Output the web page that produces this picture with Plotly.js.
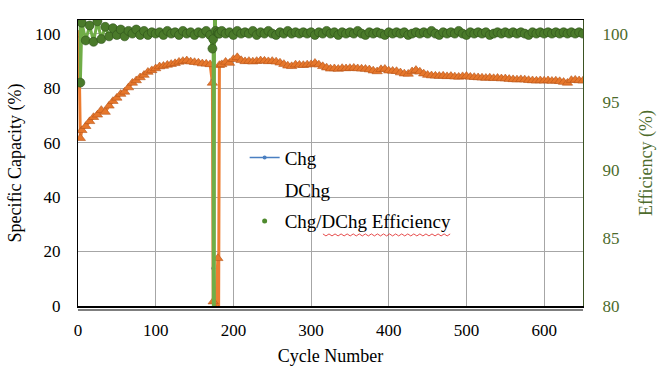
<!DOCTYPE html>
<html>
<head>
<meta charset="utf-8">
<script src="https://cdn.plot.ly/plotly-3.0.1.min.js"></script>
<style>html,body{margin:0;padding:0;background:#fff;}#chart{width:659px;height:373px;}</style>
</head>
<body>
<div id="chart"></div>
<script>
// Cycle numbers (sampled)
const cycles = [1,3,5,10,15,20,25,30,35,40,45,50,55,60,65,70,75,80,85,90,95,100,
  105,110,115,120,125,130,135,140,145,150,155,160,165,170,173,174,175,176,177,180,181,182,
  185,190,195,200,205,210,215,220,225,230,235,240,245,250,255,260,265,270,275,280,285,290,295,300,
  305,310,315,320,325,330,335,340,345,350,355,360,365,370,375,380,385,390,395,400,
  405,410,415,420,425,430,435,440,445,450,455,460,465,470,475,480,485,490,495,500,
  505,510,515,520,525,530,535,540,545,550,555,560,565,570,575,580,585,590,595,600,
  605,610,615,620,625,630,635,640,645,650];

// Specific capacity, charge (%)
const chg = [99.4,64.0,64.8,66.3,68.1,69.6,70.5,72.2,71.5,73.8,75.5,76.7,78.1,78.9,80.5,82.2,83.1,84.2,85.1,86.2,86.8,87.5,
  88.2,88.4,88.8,89.1,89.4,89.9,90.2,90.4,90.0,89.8,89.6,89.3,89.2,89.0,83.1,13.9,-1.0,-1.0,-0.8,3.7,-1.0,88.7,
  89.0,89.9,89.5,90.9,91.6,90.5,90.1,90.2,90.0,90.2,90.4,90.3,90.1,90.2,90.0,89.6,89.1,88.5,88.3,88.9,88.8,88.7,88.9,89.0,
  89.5,88.9,88.3,87.8,87.4,87.5,87.3,87.6,87.5,87.6,87.7,87.5,87.4,87.3,87.1,86.7,86.4,87.2,87.3,86.7,
  86.6,86.5,86.0,85.6,85.5,86.4,86.9,86.3,85.6,85.1,84.9,84.8,84.7,84.8,84.6,84.7,84.5,84.4,84.6,84.7,
  84.4,84.3,84.2,84.1,84.0,84.1,83.9,84.0,83.8,83.8,83.6,83.5,83.4,83.5,83.4,83.2,83.1,83.0,83.1,83.0,
  83.1,82.9,83.0,82.8,82.5,82.2,83.2,83.3,83.1,83.0];

// Specific capacity, discharge (%)
const dchg = [99.6,61.6,64.5,66.0,67.8,69.3,70.2,71.9,71.2,73.5,75.2,76.4,77.8,78.6,80.2,81.9,82.8,83.9,84.8,85.9,86.5,87.2,
  87.9,88.1,88.5,88.8,89.1,89.6,89.9,90.1,89.7,89.5,89.3,89.0,88.9,88.7,81.9,1.6,-1.5,-1.5,-1.2,17.5,-1.5,88.4,
  88.7,89.6,89.2,90.6,91.3,90.2,89.8,89.9,89.7,89.9,90.1,90.0,89.8,89.9,89.7,89.3,88.8,88.2,88.0,88.6,88.5,88.4,88.6,88.7,
  89.2,88.6,88.0,87.5,87.1,87.2,87.0,87.3,87.2,87.3,87.4,87.2,87.1,87.0,86.8,86.4,86.1,86.9,87.0,86.4,
  86.3,86.2,85.7,85.3,85.2,86.1,86.6,86.0,85.3,84.8,84.6,84.5,84.4,84.5,84.3,84.4,84.2,84.1,84.3,84.4,
  84.1,84.0,83.9,83.8,83.7,83.8,83.6,83.7,83.5,83.5,83.3,83.2,83.1,83.2,83.1,82.9,82.8,82.7,82.8,82.7,
  82.8,82.6,82.7,82.5,82.2,81.9,82.9,83.0,82.8,82.7];

// Charge/discharge efficiency (%)
const eff = [130,96.4,100.8,99.5,100.6,99.4,100.9,99.6,100.5,99.8,100.4,99.9,100.3,99.8,100.2,100.0,100.3,99.9,100.2,99.9,100.1,100.0,
  100.1,99.9,100.2,100.0,100.1,99.9,100.2,100.0,100.1,99.9,100.1,100.0,100.2,99.9,98.9,99.6,11.5,150,100.2,100.1,100.0,100.0,
  100.2,100.0,100.1,99.9,100.2,100.0,100.1,100.0,100.2,99.9,100.1,100.0,100.2,100.0,99.9,100.1,100.0,100.2,100.0,100.1,100.0,100.1,100.0,100.1,
  99.9,100.1,100.0,100.2,100.0,100.1,99.9,100.1,100.0,100.1,100.0,100.2,100.0,99.9,100.1,100.0,100.1,100.0,99.9,100.1,
  100.0,100.1,100.0,100.1,99.9,100.0,100.1,100.0,100.1,100.0,100.2,100.0,99.9,100.1,100.0,100.1,100.0,100.2,100.0,99.9,
  100.1,100.0,100.1,100.0,100.1,99.9,100.0,100.1,100.0,100.1,100.0,100.1,100.0,100.1,100.0,99.9,100.1,100.0,100.1,100.0,
  100.1,100.0,100.1,100.0,100.1,100.0,100.1,100.0,100.1,100.0];

const xTicks = [0,100,200,300,400,500,600];
const yTicks = [0,20,40,60,80,100];
const y2Ticks = [80,85,90,95,100];

const serif = "\"Liberation Serif\", serif";
const green = "#4d6b2c";

const traces = [
  {x: cycles, y: chg, name: "Chg", type: "scatter", mode: "lines+markers",
   line: {color: "#4a7fc1", width: 1.5}, marker: {color: "#4a7fc1", size: 4, symbol: "circle"},
   legendgroup: "a", yaxis: "y"},
  {x: cycles, y: dchg, name: "DChg", type: "scatter", mode: "lines+markers",
   line: {color: "#ed7d31", width: 3}, marker: {color: "#e6772c", size: 9, symbol: "triangle-up", line: {color: "#b9551a", width: 0.6}},
   showlegend: false, yaxis: "y"},
  {x: [null], y: [null], name: "DChg", type: "scatter", mode: "markers",
   marker: {color: "rgba(0,0,0,0)", size: 1}, legendgroup: "b", yaxis: "y"},
  {x: cycles, y: eff, name: "Efficiency line", type: "scatter", mode: "lines",
   line: {color: "#70ad47", width: 3}, showlegend: false, yaxis: "y2"},
  {x: cycles, y: eff, name: "Chg/DChg Efficiency", type: "scatter", mode: "markers",
   marker: {color: "#4a7a2a", size: 9, symbol: "circle", line: {color: "#2e5219", width: 0.6}},
   showlegend: false, yaxis: "y2"},
  {x: [null], y: [null], name: "Chg/DChg Efficiency", type: "scatter", mode: "markers",
   marker: {color: "#4f8a2e", size: 5, symbol: "circle"}, legendgroup: "c", yaxis: "y2"}
];

// spell-check style wavy underline under part of the legend text (decoration)
let wave = "M 0.485 0.252";
for (let i = 1; i <= 42; i++) {
  const px = 0.485 + i * 0.006;
  const py = (i % 2 === 1) ? 0.245 : 0.252;
  wave += " L " + px.toFixed(4) + " " + py.toFixed(4);
}

const layout = {
  width: 659, height: 373,
  margin: {l: 78, r: 76, t: 20, b: 67},
  paper_bgcolor: "#ffffff", plot_bgcolor: "#ffffff",
  font: {family: serif, size: 16, color: "#000"},
  showlegend: true,
  legend: {x: 0.33, y: 0.585, xanchor: "left", yanchor: "top", bgcolor: "rgba(0,0,0,0)",
           font: {family: serif, size: 19, color: "#000"}, tracegroupgap: 4, traceorder: "grouped"},
  xaxis: {range: [0, 650], tickvals: xTicks, ticktext: xTicks.map(String),
          showgrid: true, gridcolor: "#a6a6a6", gridwidth: 1, zeroline: false,
          showline: true, linecolor: "#000", linewidth: 1.5, mirror: true,
          ticks: "", ticklabelstandoff: 8,
          tickfont: {family: serif, size: 17, color: "#000"},
          title: {text: "Cycle Number", font: {family: serif, size: 18, color: "#000"}, standoff: 10}},
  yaxis: {range: [0, 105], tickvals: yTicks, ticktext: yTicks.map(String),
          showgrid: true, gridcolor: "#a6a6a6", gridwidth: 1, zeroline: false,
          showline: true, linecolor: "#000", linewidth: 1.2,
          ticks: "", ticklabelstandoff: 13,
          tickfont: {family: serif, size: 17, color: "#000"},
          title: {text: "Specific Capacity (%)", font: {family: serif, size: 18, color: "#000"}, standoff: 8}},
  yaxis2: {range: [80, 101], overlaying: "y", side: "right", tickvals: y2Ticks, ticktext: y2Ticks.map(String),
           showgrid: false, zeroline: false, showline: true, linecolor: "#3b5323", linewidth: 1.2,
           ticks: "", ticklabelstandoff: 15,
           tickfont: {family: serif, size: 17, color: green},
           title: {text: "Efficiency (%)", font: {family: serif, size: 18, color: green}, standoff: 12}},
  shapes: [
    {type: "line", xref: "paper", yref: "paper", x0: 0, x1: 1, y0: -0.014, y1: -0.014,
     line: {color: "#000", width: 1.2}},
    {type: "path", xref: "paper", yref: "paper", path: wave, line: {color: "#e02020", width: 0.8}}
  ]
};

Plotly.newPlot("chart", traces, layout, {displayModeBar: false, staticPlot: true});
</script>
</body>
</html>
